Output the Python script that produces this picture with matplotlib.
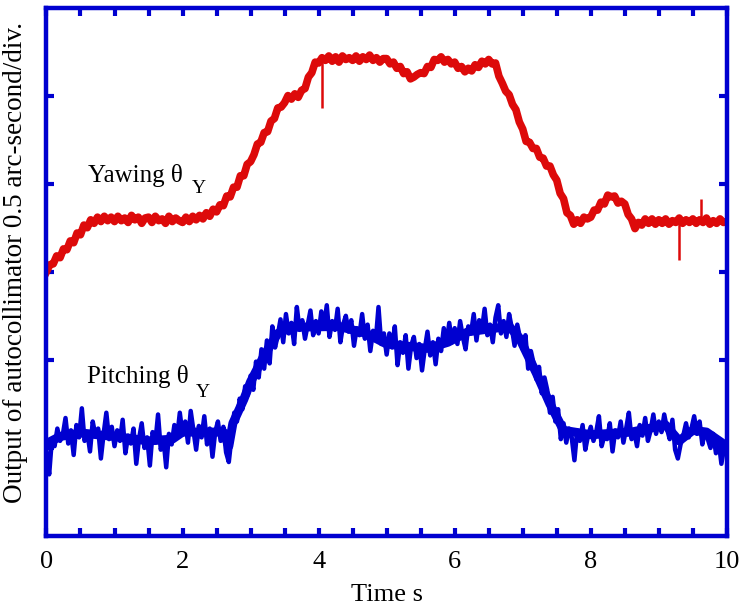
import numpy as np
import matplotlib
matplotlib.use("Agg")
import matplotlib.pyplot as plt

# Autocollimator output, 1 div = 0.5 arc-second
# yawing sampled every 0.05 s
yaw = [
    3.00, 3.08, 3.09, 3.18, 3.16, 3.26, 3.25, 3.35, 3.33, 3.44,
    3.42, 3.53, 3.50, 3.59, 3.55, 3.62, 3.57, 3.63, 3.58, 3.62,
    3.57, 3.63, 3.58, 3.61, 3.56, 3.64, 3.59, 3.62, 3.55, 3.61,
    3.62, 3.56, 3.63, 3.58, 3.60, 3.55, 3.63, 3.57, 3.61, 3.58,
    3.56, 3.62, 3.57, 3.63, 3.59, 3.64, 3.60, 3.67, 3.63, 3.71,
    3.68, 3.76, 3.75, 3.86, 3.85, 3.96, 3.96, 4.09, 4.09, 4.22,
    4.25, 4.33, 4.45, 4.47, 4.58, 4.59, 4.71, 4.74, 4.86, 4.87,
    4.92, 5.00, 4.96, 5.02, 4.98, 5.06, 5.08, 5.21, 5.26, 5.38,
    5.37, 5.43, 5.40, 5.45, 5.39, 5.44, 5.38, 5.45, 5.41, 5.43,
    5.40, 5.45, 5.39, 5.44, 5.41, 5.46, 5.40, 5.43, 5.38, 5.42,
    5.42, 5.36, 5.38, 5.31, 5.33, 5.25, 5.27, 5.19, 5.21, 5.24,
    5.26, 5.25, 5.33, 5.32, 5.41, 5.40, 5.44, 5.38, 5.41, 5.36,
    5.38, 5.31, 5.33, 5.27, 5.31, 5.28, 5.35, 5.32, 5.39, 5.36,
    5.41, 5.36, 5.37, 5.22, 5.14, 5.05, 5.01, 4.90, 4.84, 4.70,
    4.62, 4.48, 4.47, 4.40, 4.40, 4.30, 4.29, 4.20, 4.20, 4.10,
    4.04, 3.89, 3.83, 3.67, 3.64, 3.54, 3.59, 3.55, 3.62, 3.60,
    3.62, 3.70, 3.70, 3.79, 3.77, 3.87, 3.85, 3.86, 3.78, 3.80,
    3.77, 3.65, 3.60, 3.49, 3.56, 3.53, 3.60, 3.55, 3.60, 3.54,
    3.59, 3.55, 3.60, 3.54, 3.58, 3.56, 3.61, 3.55, 3.59, 3.56,
    3.60, 3.55, 3.59, 3.56, 3.61, 3.54, 3.58, 3.55, 3.60, 3.56,
    3.57,
]

# pitching sampled every 0.04 s (one row = 1 s)
pitch = [
    0.95, 0.70, 1.10, 1.02, 1.22, 1.08, 1.15, 1.34, 1.05, 1.20, 0.92, 1.26, 1.12,
    1.45, 1.08, 1.18, 0.96, 1.30, 1.14, 1.22, 0.88, 1.16, 1.40, 1.10, 1.24,
    1.02, 1.20, 1.08, 1.32, 0.94, 1.14, 1.05, 1.22, 0.82, 1.10, 1.28, 1.00, 1.12,
    0.80, 1.18, 1.06, 1.38, 0.98, 1.10, 0.78, 1.16, 1.04, 1.26, 1.12, 1.40,
    1.15, 1.30, 1.06, 1.42, 1.20, 0.98, 1.25, 1.12, 1.36, 1.04, 1.22, 0.90, 1.18,
    1.30, 1.08, 1.24, 0.95, 0.84, 1.12, 1.40, 1.30, 1.56, 1.44, 1.70, 1.60,
    1.82, 1.66, 1.98, 1.80, 2.12, 1.90, 2.22, 1.96, 2.38, 2.14, 2.28, 2.46, 2.20,
    2.52, 2.30, 2.42, 2.18, 2.60, 2.34, 2.45, 2.24, 2.40, 2.56, 2.28, 2.44,
    2.30, 2.55, 2.38, 2.62, 2.26, 2.44, 2.34, 2.58, 2.20, 2.40, 2.50, 2.32, 2.45,
    2.16, 2.36, 2.28, 2.52, 2.24, 2.40, 2.10, 2.33, 2.22, 2.60, 2.18, 2.30,
    2.06, 2.30, 2.14, 2.38, 1.94, 2.20, 2.08, 2.28, 1.90, 2.16, 2.26, 2.02, 2.18,
    1.88, 2.12, 2.32, 2.05, 2.20, 1.95, 2.24, 2.10, 2.36, 2.18, 2.42, 2.20,
    2.36, 2.18, 2.44, 2.26, 2.12, 2.38, 2.30, 2.52, 2.22, 2.45, 2.34, 2.58, 2.28,
    2.40, 2.20, 2.48, 2.62, 2.30, 2.44, 2.26, 2.52, 2.36, 2.16, 2.40, 2.25,
    2.12, 2.28, 1.90, 2.10, 1.96, 1.78, 1.92, 1.62, 1.80, 1.66, 1.40, 1.58, 1.30,
    1.44, 1.10, 1.28, 1.06, 1.22, 1.12, 0.86, 1.20, 1.08, 1.26, 0.98, 1.14,
    1.24, 1.08, 1.18, 1.36, 1.02, 1.14, 1.10, 1.28, 0.96, 1.20, 1.12, 1.30, 1.06,
    1.22, 1.40, 1.10, 1.18, 1.02, 1.26, 1.14, 1.34, 1.08, 1.20, 1.38, 1.16,
    1.30, 1.18, 1.38, 1.22, 1.10, 1.32, 0.98, 0.88, 1.04, 1.14, 1.28, 1.12, 1.22,
    1.36, 1.16, 1.30, 1.04, 1.20, 1.10, 1.00, 1.16, 0.94, 1.08, 0.82, 1.00,
    1.02,
]

# dense core of the pitching trace (the band the spikes ride on)
pitch_core_t = [0, 0.2, 0.5, 1.0, 1.5, 1.85, 2.0, 2.6, 2.68, 2.74, 2.9, 3.0,
                3.2, 3.4, 3.6, 4.3, 4.7, 5.0, 5.6, 5.9, 6.2, 6.8, 6.95, 7.2,
                7.4, 7.6, 8.0, 8.6, 9.1, 9.3, 9.5, 9.7, 10.0]
pitch_core = [1.05, 1.13, 1.17, 1.13, 1.08, 1.10, 1.18, 1.18, 1.02, 1.28, 1.55, 1.75,
              2.05, 2.30, 2.37, 2.38, 2.30, 2.18, 2.13, 2.20, 2.32, 2.38, 2.25, 1.85,
              1.50, 1.20, 1.15, 1.18, 1.26, 1.08, 1.20, 1.18, 1.02]

# single-sample glitches in the yawing trace
spike_t = [4.05, 9.29, 9.62]
spike_base = [5.40, 3.57, 3.57]
spike_tip = [4.86, 3.13, 3.83]

xticks = [0, 2, 4, 6, 8, 10]

frame = '#0000d0'
red = '#dd0a0a'

plt.rcParams['font.family'] = ['Liberation Serif', 'DejaVu Serif']

fig = plt.figure(figsize=(7.47, 6.05), dpi=100)
ax = fig.add_axes([0.0622, 0.114, 0.9108, 0.8736])

ax.plot(np.linspace(0, 10, len(yaw)), yaw, color=red, lw=5.5)
ax.vlines(spike_t, spike_base, spike_tip, color=red, lw=1.8)
ax.plot(pitch_core_t, pitch_core, color=frame, lw=6.5)
ax.plot(np.linspace(0, 10, len(pitch)), pitch, color=frame, lw=3.2)

ax.set_xlim(0, 10)
ax.set_ylim(0, 6)
ax.set_xticks(xticks)
ax.set_xticks(np.arange(0, 10.01, 0.5), minor=True)
ax.set_yticks([1, 2, 3, 4, 5])
ax.set_yticklabels([])
ax.tick_params(which='both', direction='in', length=6, width=3, color=frame,
               top=True, right=True, labelsize=19, pad=11)

for s in ax.spines.values():
    s.set_color(frame)
    s.set_linewidth(3.2)

ax.set_xlabel('Time s', fontsize=19, labelpad=8)
ax.set_ylabel('Output of autocollimator 0.5 arc-second/div.', fontsize=19.5)
ax.yaxis.set_label_coords(-0.027, 0.518)

ax.text(0.61, 4.02, 'Yawing θ', fontsize=18)
ax.text(2.14, 3.89, 'Y', fontsize=14)
ax.text(0.60, 1.74, 'Pitching θ', fontsize=18)
ax.text(2.20, 1.58, 'Y', fontsize=14)

fig.savefig('out.png', dpi=100)
